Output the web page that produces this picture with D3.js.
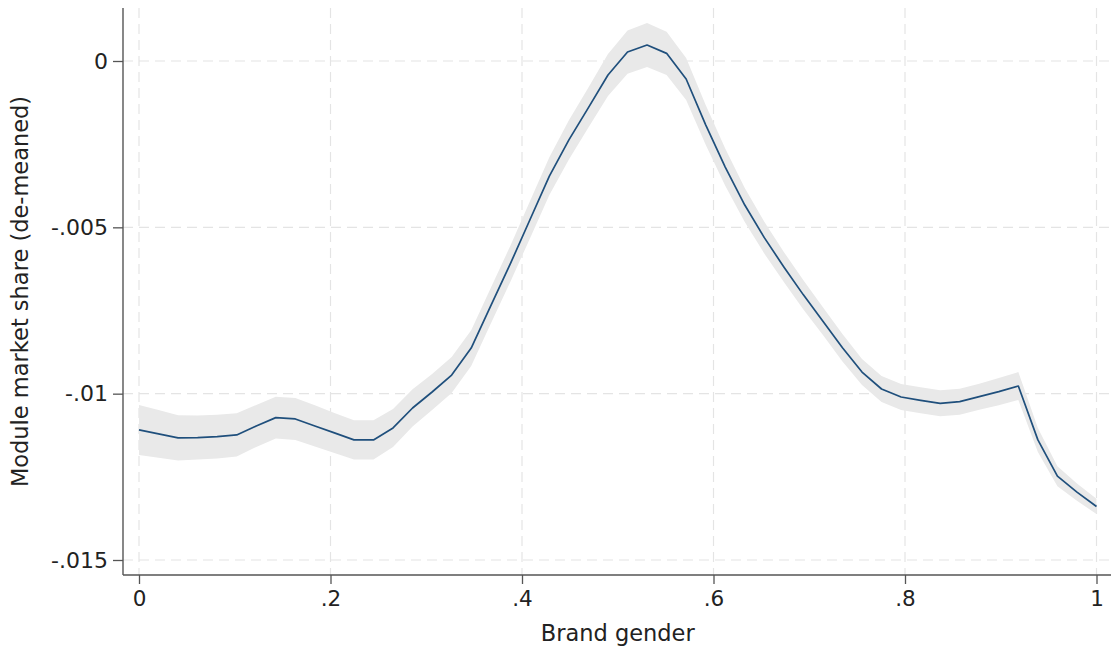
<!DOCTYPE html>
<html>
<head>
<meta charset="utf-8">
<script src="https://cdn.jsdelivr.net/npm/d3@7"></script>
<style>
  html, body { margin: 0; padding: 0; background: #fff; }
  svg { display: block; }
  text { font-family: "DejaVu Sans", sans-serif; fill: #222; }
</style>
</head>
<body>
<svg id="chart" width="1115" height="649"></svg>
<script>
// ---- data ----
const gridPoints = d3.range(50).map(i => i / 49); // 50 evaluation points of the smoother
const fitted = [
  -0.01109, -0.01121, -0.01133, -0.01132, -0.01129, -0.01124, -0.01097, -0.01072, -0.01076, -0.01097,
  -0.01118, -0.01139, -0.01139, -0.01103, -0.01043, -0.00995, -0.00944, -0.00863, -0.00736, -0.00610,
  -0.00478, -0.00346, -0.00237, -0.00140, -0.00042,  0.00027,  0.00048,  0.00023, -0.00054, -0.00192,
  -0.00319, -0.00433, -0.00531, -0.00619, -0.00703, -0.00782, -0.00862, -0.00935, -0.00986, -0.01010,
  -0.01020, -0.01029, -0.01024, -0.01009, -0.00994, -0.00977, -0.01139, -0.01248, -0.01296, -0.01339
];
const ciLower = [
  -0.01184, -0.01193, -0.01201, -0.01198, -0.01195, -0.01189, -0.01160, -0.01135, -0.01139, -0.01159,
  -0.01178, -0.01198, -0.01198, -0.01160, -0.01099, -0.01049, -0.00998, -0.00917, -0.00790, -0.00664,
  -0.00534, -0.00403, -0.00296, -0.00200, -0.00105, -0.00038, -0.00018, -0.00042, -0.00117, -0.00252,
  -0.00375, -0.00484, -0.00579, -0.00664, -0.00747, -0.00824, -0.00903, -0.00974, -0.01025, -0.01049,
  -0.01059, -0.01068, -0.01063, -0.01048, -0.01035, -0.01019, -0.01175, -0.01278, -0.01322, -0.01362
];
const ciUpper = [
  -0.01034, -0.01049, -0.01065, -0.01066, -0.01063, -0.01059, -0.01034, -0.01009, -0.01013, -0.01035,
  -0.01058, -0.01080, -0.01080, -0.01046, -0.00987, -0.00941, -0.00890, -0.00809, -0.00682, -0.00556,
  -0.00422, -0.00289, -0.00178, -0.00080,  0.00021,  0.00092,  0.00114,  0.00088,  0.00009, -0.00132,
  -0.00263, -0.00382, -0.00483, -0.00574, -0.00659, -0.00740, -0.00821, -0.00896, -0.00947, -0.00971,
  -0.00981, -0.00990, -0.00985, -0.00970, -0.00953, -0.00935, -0.01103, -0.01218, -0.01270, -0.01316
];
const xTicks = [0, 0.2, 0.4, 0.6, 0.8, 1];
const xTickLabels = ["0", ".2", ".4", ".6", ".8", "1"];
const yTicks = [0, -0.005, -0.01, -0.015];
const yTickLabels = ["0", "-.005", "-.01", "-.015"];
const xTitle = "Brand gender";
const yTitle = "Module market share (de-meaned)";

// ---- layout ----
const svg = d3.select("#chart");
const axisLeftX = 123, axisRightX = 1111, axisTopY = 8, axisBottomY = 575;
const x = d3.scaleLinear().domain([0, 1]).range([139, 1096.5]);
const y = d3.scaleLinear().domain([-0.015, 0]).range([560, 61]);

const rows = gridPoints.map((g, i) => ({ g, fit: fitted[i], lo: ciLower[i], hi: ciUpper[i] }));

// gridlines
const grid = svg.append("g");
grid.selectAll("line.vg").data(xTicks).join("line")
  .attr("x1", d => x(d)).attr("x2", d => x(d))
  .attr("y1", axisTopY).attr("y2", axisBottomY)
  .attr("stroke", "#e4e4e4").attr("stroke-width", 1.2).attr("stroke-dasharray", "10,6");
grid.selectAll("line.hg").data(yTicks).join("line")
  .attr("x1", axisLeftX).attr("x2", axisRightX)
  .attr("y1", d => y(d)).attr("y2", d => y(d))
  .attr("stroke", "#e4e4e4").attr("stroke-width", 1.2).attr("stroke-dasharray", "10,6");

// confidence band
svg.append("path").datum(rows)
  .attr("d", d3.area().x(d => x(d.g)).y0(d => y(d.lo)).y1(d => y(d.hi)))
  .attr("fill", "#e9e9e9").attr("stroke", "none");

// fitted line
svg.append("path").datum(rows)
  .attr("d", d3.line().x(d => x(d.g)).y(d => y(d.fit)))
  .attr("fill", "none").attr("stroke", "#1f4f7c").attr("stroke-width", 1.7)
  .attr("stroke-linejoin", "round");

// axes
const axisColor = "#555";
const xAxis = d3.axisBottom(x).tickValues(xTicks).tickFormat((d, i) => xTickLabels[i]).tickSize(9).tickPadding(7);
const gx = svg.append("g").attr("transform", `translate(0,${axisBottomY})`).call(xAxis);
gx.select(".domain").remove();
gx.selectAll(".tick line").attr("stroke", axisColor).attr("stroke-width", 1.3);
gx.selectAll(".tick text").attr("font-size", 21.5).attr("font-family", "DejaVu Sans").attr("fill", "#222");

const yAxis = d3.axisLeft(y).tickValues(yTicks).tickFormat((d, i) => yTickLabels[i]).tickSize(10).tickPadding(5);
const gy = svg.append("g").attr("transform", `translate(${axisLeftX},0)`).call(yAxis);
gy.select(".domain").remove();
gy.selectAll(".tick line").attr("stroke", axisColor).attr("stroke-width", 1.3);
gy.selectAll(".tick text").attr("font-size", 22).attr("font-family", "DejaVu Sans").attr("fill", "#222");

svg.append("line").attr("x1", axisLeftX).attr("x2", axisLeftX).attr("y1", axisTopY).attr("y2", axisBottomY)
  .attr("stroke", axisColor).attr("stroke-width", 1.4);
svg.append("line").attr("x1", axisLeftX).attr("x2", axisRightX).attr("y1", axisBottomY).attr("y2", axisBottomY)
  .attr("stroke", axisColor).attr("stroke-width", 1.4);

// titles
svg.append("text").attr("x", (x(0) + x(1)) / 2).attr("y", 640.5)
  .attr("text-anchor", "middle").attr("font-size", 22.5).text(xTitle);
svg.append("text")
  .attr("transform", `translate(28,${(axisTopY + axisBottomY) / 2}) rotate(-90)`)
  .attr("text-anchor", "middle").attr("font-size", 22.5).text(yTitle);
</script>
</body>
</html>
